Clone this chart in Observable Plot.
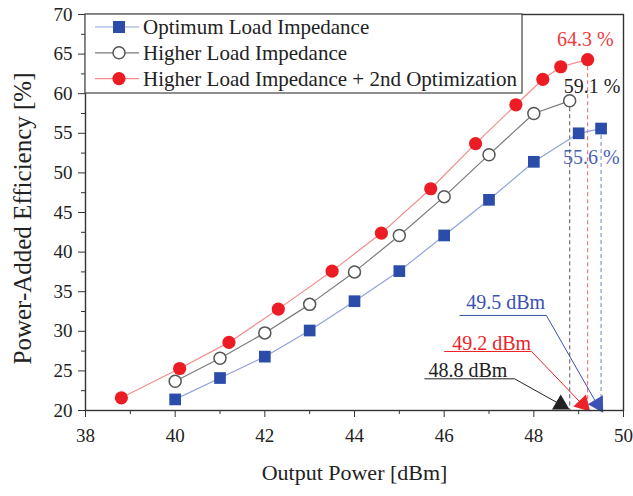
<!DOCTYPE html>
<html>
<head>
<meta charset="utf-8">
<script src="https://cdn.jsdelivr.net/npm/d3@7"></script>
<script src="https://cdn.jsdelivr.net/npm/@observablehq/plot@0.6"></script>
<style>
  html, body { margin: 0; padding: 0; background: white; }
  #chart svg { display: block; }
</style>
</head>
<body>
<div id="chart"></div>
<script>
// ---- Data ----
const seriesNames = ["Optimum Load Impedance", "Higher Load Impedance", "Higher Load Impedance + 2nd Optimization"];

const optX = [40, 41, 42, 43, 44, 45, 46, 47, 48, 49, 49.5];
const optY = [21.4, 24.1, 26.8, 30.1, 33.8, 37.6, 42.1, 46.6, 51.4, 55.0, 55.6];

const highX = [40, 41, 42, 43, 44, 45, 46, 47, 48, 48.8];
const highY = [23.7, 26.6, 29.8, 33.4, 37.5, 42.1, 47.0, 52.3, 57.5, 59.1];

const optzX = [38.8, 40.1, 41.2, 42.3, 43.5, 44.6, 45.7, 46.7, 47.6, 48.2, 48.6, 49.2];
const optzY = [21.6, 25.3, 28.6, 32.8, 37.6, 42.4, 48.0, 53.7, 58.6, 61.8, 63.4, 64.3];

const xMajorTicks = [38, 40, 42, 44, 46, 48, 50];
const xMinorTicks = [39, 41, 43, 45, 47, 49];
const yMajorTicks = [20, 25, 30, 35, 40, 45, 50, 55, 60, 65, 70];
const yMinorTicks = [22.5, 27.5, 32.5, 37.5, 42.5, 47.5, 52.5, 57.5, 62.5, 67.5];

const peakPct = ["64.3 %", "59.1 %", "55.6 %"];
const peakPower = ["49.2 dBm", "48.8 dBm", "49.5 dBm"];

// ---- Styles ----
const C = {
  blue: "#2b4ca8", blueLine: "#8fa2dc", blueText: "#4a5fb5", blueDash: "#7d8fd6",
  gray: "#555555", grayLine: "#7a7a7a", grayDash: "#666666",
  red: "#ec1c24", redLine: "#f38c8c", redText: "#ee3b40", redDash: "#f07070"
};

const toRows = (xs, ys) => xs.map((x, i) => ({x, y: ys[i]}));
const opt = toRows(optX, optY);
const high = toRows(highX, highY);
const optz = toRows(optzX, optzY);

const lastOf = a => a[a.length - 1];

// annotation anchors (data coordinates)
const pctLabels = [
  {x: 49.15, y: 66.8, text: peakPct[0], color: C.redText},
  {x: 49.3, y: 60.9, text: peakPct[1], color: "#222"},
  {x: 49.28, y: 51.9, text: peakPct[2], color: C.blueText}
];
const dashRules = [
  {x: lastOf(optz).x, y1: lastOf(optz).y, color: C.redDash},
  {x: lastOf(high).x, y1: lastOf(high).y, color: C.grayDash},
  {x: lastOf(opt).x, y1: lastOf(opt).y, color: C.blueDash}
];
const leaders = [
  {k: "b", color: "#3a52b3", text: peakPower[2], tx: 47.37, ty: 33.6,
   pts: [[46.35, 32.0], [48.28, 32.0], [49.4, 20.9]], head: [49.43, 20.8], rot: 149},
  {k: "r", color: "#ec2329", text: peakPower[0], tx: 47.06, ty: 28.4,
   pts: [[46.01, 27.45], [47.95, 27.45], [49.05, 20.95]], head: [49.1, 20.8], rot: 136},
  {k: "k", color: "#222222", text: peakPower[1], tx: 46.53, ty: 25.1,
   pts: [[45.57, 24.0], [47.57, 24.0], [48.55, 20.9]], head: [48.6, 20.75], rot: 0}
];
const leaderPts = leaders.flatMap(l => l.pts.map(p => ({k: l.k, x: p[0], y: p[1], color: l.color})));

const serif = "Liberation Serif, Times New Roman, serif";

const chart = Plot.plot({
  width: 633,
  height: 496,
  marginLeft: 85,
  marginRight: 10,
  marginTop: 14,
  marginBottom: 86,
  x: {domain: [38, 50]},
  y: {domain: [20, 70]},
  style: {fontFamily: serif, background: "white", color: "#222", overflow: "visible"},
  marks: [
    // dashed drop lines
    Plot.ruleX(dashRules, {x: "x", y1: "y1", y2: 20, stroke: "color", strokeDasharray: "4,3", strokeWidth: 1.1}),
    // series lines
    Plot.line(opt, {x: "x", y: "y", stroke: C.blueLine, strokeWidth: 1.2}),
    Plot.line(high, {x: "x", y: "y", stroke: C.grayLine, strokeWidth: 1.2}),
    Plot.line(optz, {x: "x", y: "y", stroke: C.redLine, strokeWidth: 1.2}),
    // markers
    Plot.dot(opt, {x: "x", y: "y", symbol: "square", r: 6.6, fill: C.blue}),
    Plot.dot(high, {x: "x", y: "y", r: 6, fill: "white", stroke: C.gray, strokeWidth: 1.5}),
    Plot.dot(optz, {x: "x", y: "y", r: 6.6, fill: C.red}),
    // peak labels
    Plot.text(pctLabels, {x: "x", y: "y", text: "text", fill: "color", fontSize: 20, fontFamily: serif}),
    // leader lines
    Plot.line(leaderPts, {x: "x", y: "y", z: "k", stroke: "color", strokeWidth: 1}),
    Plot.dot(leaders, {x: d => d.head[0], y: d => d.head[1], symbol: "triangle", r: 6.5, fill: "color", rotate: "rot"}),
    Plot.text(leaders, {x: "tx", y: "ty", text: "text", fill: "color", fontSize: 20, fontFamily: serif}),
    // axes
    Plot.axisX({ticks: xMajorTicks, tickSize: 7, tickPadding: 11, fontSize: 19, label: null, stroke: "#333"}),
    Plot.axisX({ticks: xMinorTicks, tickSize: 4, text: null, label: null, stroke: "#333"}),
    Plot.axisY({ticks: yMajorTicks, tickSize: 7, tickPadding: 6, fontSize: 19, label: null, stroke: "#333"}),
    Plot.axisY({ticks: yMinorTicks, tickSize: 4, text: null, label: null, stroke: "#333"}),
    Plot.frame({stroke: "#333", strokeWidth: 1.4}),
    // axis titles
    Plot.text(["Output Power [dBm]"], {frameAnchor: "bottom", dy: 69, lineAnchor: "bottom", textAnchor: "middle", fontSize: 22, fontFamily: serif, fill: "#222"}),
    Plot.text(["Power-Added Efficiency [%]"], {frameAnchor: "left", dx: -63, dy: 6, rotate: -90, textAnchor: "middle", lineAnchor: "middle", fontSize: 25, fontFamily: serif, fill: "#222"})
  ]
});

document.getElementById("chart").appendChild(chart);

// ---- Legend (inside the plot, top-left) ----
const svg = d3.select(chart);
const lg = svg.append("g").attr("font-family", serif).attr("text-anchor", "start");
lg.append("rect").attr("x", 85).attr("y", 14).attr("width", 437).attr("height", 79)
  .attr("fill", "white").attr("stroke", "#444").attr("stroke-width", 1.2);
const legendItems = [
  {name: seriesNames[0], line: C.blueLine, kind: "square"},
  {name: seriesNames[1], line: C.grayLine, kind: "open"},
  {name: seriesNames[2], line: C.redLine, kind: "dot"}
];
legendItems.forEach((it, i) => {
  const y = 27 + i * 25.8;
  lg.append("line").attr("x1", 95).attr("x2", 139).attr("y1", y).attr("y2", y)
    .attr("stroke", it.line).attr("stroke-width", 1.2);
  if (it.kind === "square") {
    lg.append("rect").attr("x", 113).attr("y", y - 6).attr("width", 12).attr("height", 12).attr("fill", C.blue);
  } else if (it.kind === "open") {
    lg.append("circle").attr("cx", 119).attr("cy", y).attr("r", 6).attr("fill", "white")
      .attr("stroke", C.gray).attr("stroke-width", 1.5);
  } else {
    lg.append("circle").attr("cx", 119).attr("cy", y).attr("r", 6.6).attr("fill", C.red);
  }
  lg.append("text").attr("x", 143).attr("y", y).attr("dy", "0.35em").attr("font-size", 21)
    .attr("text-anchor", "start").attr("fill", "#222").text(it.name);
});
</script>
</body>
</html>
